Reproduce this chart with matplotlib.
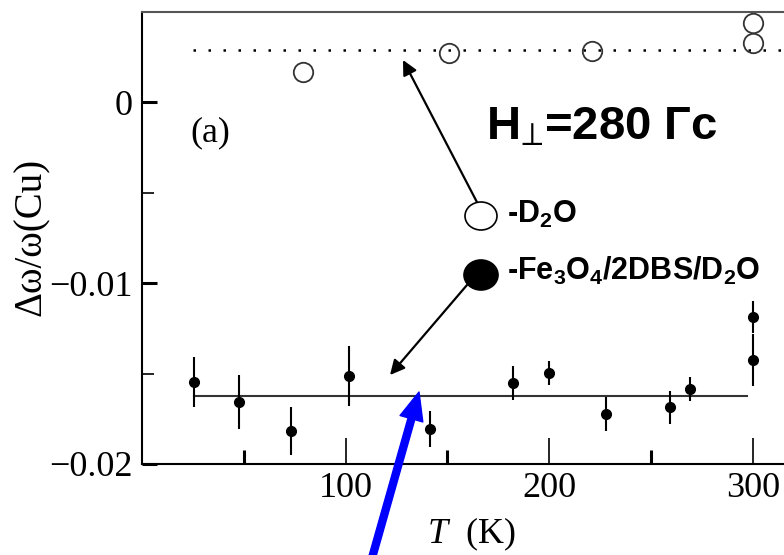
import matplotlib
matplotlib.use("Agg")
import matplotlib.pyplot as plt
from matplotlib.patches import Ellipse

plt.rcParams['font.family'] = ['Liberation Serif', 'DejaVu Serif']
plt.rcParams['mathtext.fontset'] = 'custom'
plt.rcParams['mathtext.rm'] = 'Liberation Serif'
plt.rcParams['mathtext.it'] = 'Liberation Serif:italic'
plt.rcParams['mathtext.bf'] = 'Liberation Sans:bold'

# D2O (open circles) and dotted reference level
t_d2o = [79, 151, 221, 300, 300]
dw_d2o = [0.00168, 0.00273, 0.00284, 0.00329, 0.00439]
d2o_level = 0.0029
d2o_range = [25, 340]

# Fe3O4/2DBS/D2O (filled circles with error bars)
t_fe = [25.5, 47.6, 73.2, 101.7, 141.5, 182.2, 200, 228, 259.3, 269.2, 300, 300]
dw_fe = [-0.01546, -0.01657, -0.01818, -0.01513, -0.01806, -0.01552, -0.01497,
         -0.01723, -0.01685, -0.01585, -0.01187, -0.01425]
err_fe = [0.00138, 0.00147, 0.00133, 0.00166, 0.00100, 0.00094, 0.00066,
          0.00094, 0.00091, 0.00064, 0.00090, 0.00145]
fe_level = -0.01623
fe_range = [25.5, 297]

W, H = 784, 555
fig = plt.figure(figsize=(W / 100, H / 100), dpi=100)
ax = fig.add_axes([142 / W, 91 / H, 672 / W, 452 / H])


def fp(x, y):
    # pixel position (from top-left) -> figure fraction
    return (x / W, 1 - y / H)


ax.plot(d2o_range, [d2o_level, d2o_level], color='k', lw=1.8, ls=(0, (1, 5)))
ax.plot(t_d2o, dw_d2o, 'o', mfc='none', mec='#333333', ms=14, mew=1.3)
ax.plot(fe_range, [fe_level, fe_level], color='#333333', lw=1.5)
ax.errorbar(t_fe, dw_fe, yerr=err_fe, fmt='o', color='k', ms=7, elinewidth=1.5, capsize=0)

ax.set_xlim(0, 330)
ax.set_ylim(-0.02, 0.005)
ax.set_xticks([100, 200, 300])
ax.set_xticks([50, 150, 250], minor=True)
ax.set_yticks([-0.02, -0.01, 0])
ax.set_yticklabels(['\u22120.02', '\u22120.01', '0'])
ax.set_yticks([-0.015, -0.005], minor=True)
ax.tick_params(axis='x', which='major', direction='in', length=19, width=1.2, labelsize=26, pad=6)
ax.tick_params(axis='x', which='minor', direction='in', length=10, width=2.2)
ax.tick_params(axis='y', which='major', direction='in', length=11, width=2.2, labelsize=26, pad=7)
ax.tick_params(axis='y', which='minor', direction='in', length=8.5, width=1.2)
for s in ['left', 'bottom']:
    ax.spines[s].set_linewidth(1.5)
ax.spines['top'].set_linewidth(1.5)
ax.spines['top'].set_color('#555555')

fig.text(*fp(471, 534), '$T$  (K)', fontsize=26, ha='center', va='center')
fig.text(*fp(31, 237), '\u0394\u03c9/\u03c9(Cu)', fontsize=28, rotation=90, ha='center', va='center')
fig.text(*fp(210, 133), '(a)', fontsize=26, ha='center', va='center')

fig.text(*fp(486, 128), 'H$_{\u22a5}$=280 \u0413c', fontsize=34, family='Liberation Sans',
         weight='bold', ha='left', va='center')
fig.text(*fp(507, 214), '-$\\mathbf{D_2O}$', fontsize=22, family='Liberation Sans',
         weight='bold', ha='left', va='center')
fig.text(*fp(507, 271), '-$\\mathbf{Fe_3O_4/2DBS/D_2O}$', fontsize=22, family='Liberation Sans',
         weight='bold', ha='left', va='center')

fig.add_artist(Ellipse(fp(481, 216), 32 / W, 28 / H, transform=fig.transFigure,
                       fc='white', ec='k', lw=1.2))
fig.add_artist(Ellipse(fp(481, 275), 34 / W, 30 / H, transform=fig.transFigure,
                       fc='k', ec='k', lw=1.2))

ax.annotate('', xy=fp(403, 60), xytext=fp(480, 208), xycoords='figure fraction',
            textcoords='figure fraction',
            arrowprops=dict(arrowstyle='-|>', lw=1.6, color='k', mutation_scale=22, shrinkA=0, shrinkB=0))
ax.annotate('', xy=fp(390, 375), xytext=fp(467, 285), xycoords='figure fraction',
            textcoords='figure fraction',
            arrowprops=dict(arrowstyle='-|>', lw=1.6, color='k', mutation_scale=22, shrinkA=0, shrinkB=0))
ax.annotate('', xy=fp(419, 392), xytext=fp(370, 565), xycoords='figure fraction',
            textcoords='figure fraction', annotation_clip=False,
            arrowprops=dict(width=5, headwidth=17, headlength=20, color='#0000ff', shrink=0))

fig.savefig('out.png', dpi=100)
